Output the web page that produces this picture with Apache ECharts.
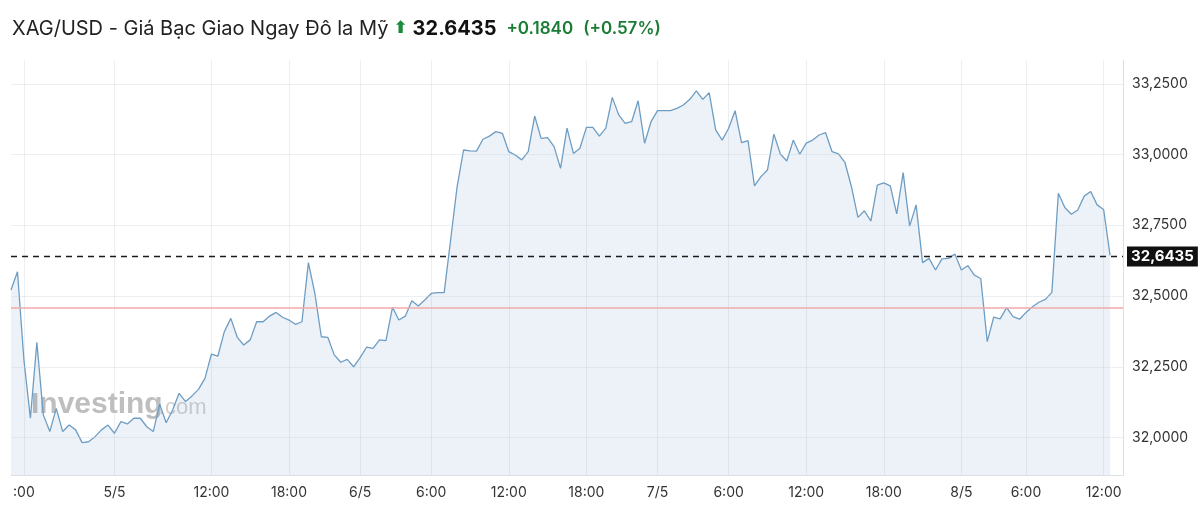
<!DOCTYPE html>
<html>
<head>
<meta charset="utf-8">
<script src="https://cdn.jsdelivr.net/npm/echarts@6/dist/echarts.min.js"></script>
<style>
html,body{margin:0;padding:0;background:#fff;}
#chart{width:1200px;height:532px;}
</style>
</head>
<body>
<div id="chart"></div>
<script>
// ---- data ----
const titleText = 'XAG/USD - Giá Bạc Giao Ngay Đô la Mỹ';
const lastPriceText = '32.6435';
const changeText = '+0.1840';
const changePctText = '(+0.57%)';
const lastPrice = 32.6435;
const prevClose = 32.4595;

// 30-minute closes
const prices = [
  32.521, 32.586, 32.274, 32.068, 32.336, 32.080, 32.021, 32.103, 32.021, 32.044,
  32.027, 31.982, 31.985, 32.003, 32.027, 32.044, 32.015, 32.056, 32.048, 32.068,
  32.068, 32.038, 32.021, 32.118, 32.052, 32.097, 32.156, 32.127, 32.147, 32.170,
  32.209, 32.295, 32.288, 32.374, 32.421, 32.354, 32.327, 32.345, 32.409, 32.409,
  32.429, 32.442, 32.425, 32.415, 32.400, 32.409, 32.618, 32.509, 32.356, 32.354,
  32.292, 32.266, 32.276, 32.250, 32.282, 32.319, 32.315, 32.345, 32.342, 32.460,
  32.415, 32.429, 32.483, 32.465, 32.486, 32.509, 32.512, 32.512, 32.698, 32.886,
  33.016, 33.013, 33.012, 33.054, 33.065, 33.081, 33.075, 33.010, 32.998, 32.981,
  33.010, 33.136, 33.057, 33.060, 33.028, 32.951, 33.093, 33.004, 33.022, 33.096,
  33.096, 33.065, 33.093, 33.202, 33.140, 33.110, 33.116, 33.190, 33.040, 33.116,
  33.155, 33.155, 33.155, 33.163, 33.175, 33.195, 33.225, 33.195, 33.218, 33.087,
  33.051, 33.093, 33.155, 33.042, 33.049, 32.889, 32.922, 32.945, 33.072, 33.002,
  32.977, 33.051, 33.001, 33.040, 33.051, 33.069, 33.077, 33.010, 33.002, 32.971,
  32.886, 32.778, 32.801, 32.765, 32.892, 32.900, 32.889, 32.790, 32.936, 32.747,
  32.822, 32.618, 32.633, 32.592, 32.631, 32.633, 32.648, 32.592, 32.607, 32.574,
  32.562, 32.339, 32.425, 32.419, 32.459, 32.427, 32.418, 32.442, 32.462, 32.478,
  32.488, 32.513, 32.863, 32.813, 32.789, 32.804, 32.853, 32.869, 32.822, 32.806,
  32.6435
];

const tickIndex  = [2, 16, 31, 43, 54, 65, 77, 89, 100, 111, 123, 135, 147, 157, 169];
const tickLabels = [':00', '5/5', '12:00', '18:00', '6/5', '6:00', '12:00', '18:00', '7/5', '6:00', '12:00', '18:00', '8/5', '6:00', '12:00'];
const yTicks = [32.0, 32.25, 32.5, 32.75, 33.0, 33.25];

// ---- chart ----
const padCount = 2;
const categories = [];
for (let i = 0; i < prices.length + padCount; i++) categories.push(String(i));

const FONT = 'Inter, "Liberation Sans", Arial, sans-serif';
function fmtComma(v) { return v.toFixed(4).replace('.', ','); }
function isTick(i) { return tickIndex.indexOf(i) >= 0; }

const markData = yTicks.map(v => ({
  yAxis: v,
  lineStyle: { color: 'rgba(200,208,216,0.35)', width: 1, type: 'solid' },
  label: { show: false }
}));
markData.push({
  yAxis: prevClose,
  lineStyle: { color: '#f2aaaa', width: 1.5, type: 'solid' },
  label: { show: false }
});
markData.push({
  yAxis: lastPrice,
  lineStyle: { color: '#1a1a1a', width: 1.3, type: [6, 5] },
  label: {
    show: true, position: 'end', distance: 4,
    formatter: fmtComma(lastPrice),
    backgroundColor: '#111', color: '#fff',
    fontFamily: FONT, fontSize: 15, fontWeight: 'bold',
    padding: [3, 4, 2, 4]
  }
});

const chart = echarts.init(document.getElementById('chart'), null, { renderer: 'canvas' });
chart.setOption({
  animation: false,
  backgroundColor: '#fff',
  title: {
    left: 7, top: 14,
    text: '{name|' + titleText + '} {arrow|⬆} {price|' + lastPriceText + '}  {chg|' + changeText + '}  {chg|' + changePctText + '}',
    textStyle: {
      rich: {
        name: { fontSize: 20, fontWeight: 'normal', color: '#222', fontFamily: FONT },
        arrow: { fontSize: 17, color: '#1c8a3c', fontFamily: 'DejaVu Sans' },
        price: { fontSize: 20, fontWeight: 'bold', color: '#111', fontFamily: FONT },
        chg: { fontSize: 17, fontWeight: 600, color: '#1b7d35', fontFamily: FONT }
      }
    }
  },
  graphic: [
    {
      type: 'text', left: 31, top: 390, silent: true,
      style: { text: 'Investing', fontSize: 30, fontWeight: 'bold', fontFamily: 'Liberation Sans, Arial, sans-serif', fill: 'rgba(125,125,125,0.5)' }
    },
    {
      type: 'text', left: 159, top: 397, silent: true,
      style: { text: '.com', fontSize: 22, fontFamily: 'Liberation Sans, Arial, sans-serif', fill: 'rgba(150,150,150,0.45)' }
    }
  ],
  grid: { left: 11, right: 77, top: 60, bottom: 57, containLabel: false },
  xAxis: {
    type: 'category',
    data: categories,
    boundaryGap: false,
    axisLine: { show: true, lineStyle: { color: '#dcdfe3' } },
    axisTick: { show: false },
    axisLabel: {
      interval: function (i) { return isTick(i); },
      formatter: function (v) { const k = tickIndex.indexOf(Number(v)); return k >= 0 ? tickLabels[k] : ''; },
      color: '#333', fontSize: 14, fontFamily: FONT, margin: 11
    },
    splitLine: {
      show: true,
      interval: function (i) { return isTick(i); },
      lineStyle: { color: 'rgba(200,208,216,0.35)', width: 1 }
    }
  },
  yAxis: {
    type: 'value',
    position: 'right',
    min: 31.8675, max: 33.334,
    axisLine: { show: true, lineStyle: { color: '#dcdfe3' } },
    axisTick: { show: false },
    splitLine: { show: false },
    axisLabel: {
      customValues: yTicks,
      formatter: function (v) { return fmtComma(v); },
      color: '#333', fontSize: 14, fontFamily: FONT, margin: 9
    }
  },
  series: [{
    type: 'line',
    data: prices,
    showSymbol: false,
    symbol: 'none',
    lineStyle: { color: '#6e9dc3', width: 1.3 },
    areaStyle: { color: 'rgba(100,150,200,0.174)', origin: 'start' },
    markLine: {
      silent: true,
      symbol: ['none', 'none'],
      animation: false,
      data: markData
    }
  }]
});
</script>
</body>
</html>
